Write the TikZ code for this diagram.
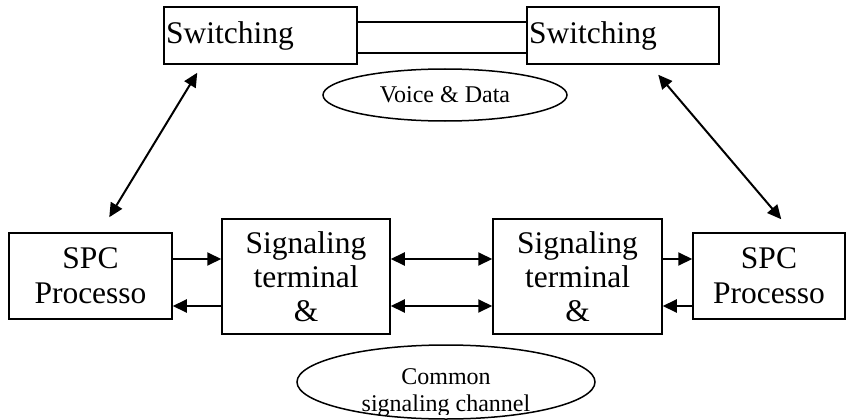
\documentclass[tikz,border=0pt]{standalone}
\usepackage{fontspec}
\setmainfont{Liberation Serif}
\usetikzlibrary{arrows.meta,shapes.geometric}
\begin{document}
\begin{tikzpicture}[x=1pt,y=-1pt,
  box/.style={draw,line width=1.5pt,inner sep=0pt,font=\fontsize{31.5}{34}\selectfont,align=center},
  swbox/.style={draw,line width=1.5pt,inner sep=2pt,font=\fontsize{31.5}{34}\selectfont,align=left,minimum height=57pt},
  oval/.style={draw,ellipse,line width=1.5pt,inner sep=0pt},
  arr/.style={-{Triangle[length=14pt,width=13pt]},line width=2pt},
  darr/.style={{Triangle[length=14pt,width=13pt]}-{Triangle[length=14pt,width=13pt]},line width=2pt},
  link/.style={line width=1.5pt}]
\useasboundingbox (0,0) rectangle (846,420);
% switching boxes
\node[swbox,text width=189pt] (lsw) at (260.5,35.5) {Switching};
\node[swbox,text width=188pt] (rsw) at (623,35.5) {Switching};
% voice & data ellipse
\node[oval,minimum width=244pt,minimum height=52pt,font=\fontsize{24}{26}\selectfont] (vd) at (445,95) {Voice \& Data};
% bottom boxes
\node[box,minimum width=163pt,minimum height=86pt,font=\fontsize{31.5}{35}\selectfont] (lspc) at (90.5,276) {SPC\\Processo};
\node[box,minimum width=168pt,minimum height=115pt] (lsig) at (306,276.5) {Signaling\\terminal\\\&};
\node[box,minimum width=169pt,minimum height=115pt] (rsig) at (577.5,276.5) {Signaling\\terminal\\\&};
\node[box,minimum width=152pt,minimum height=86pt,font=\fontsize{31.5}{35}\selectfont] (rspc) at (769,276) {SPC\\Processo};
% common signaling channel ellipse
\node[oval,minimum width=298pt,minimum height=74pt] (csc) at (446,382) {};
\begin{scope}
\clip (0,0) rectangle (846,414);
\node[font=\fontsize{24}{27}\selectfont,align=center,inner sep=0pt,anchor=base] (csct) at (446,411) {Common\\signaling channel};
\end{scope}
% link between switching
\draw[link] ([yshift=13.5pt]lsw.east) -- ([yshift=13.5pt]rsw.west);
\draw[link] ([yshift=-17.5pt]lsw.east) -- ([yshift=-17.5pt]rsw.west);
% diagonal arrows
\draw[darr] ([xshift=34pt,yshift=-8pt]lsw.south west) -- ([xshift=101pt,yshift=15pt]lspc.north west);
\draw[darr] ([xshift=132pt,yshift=-10pt]rsw.south west) -- ([xshift=89pt,yshift=13pt]rspc.north west);
% horizontal arrows
\draw[arr] ([yshift=17pt]lspc.east) -- ([yshift=17.5pt]lsig.west);
\draw[arr] ([yshift=-29.5pt]lsig.west) -- ([yshift=-30pt]lspc.east);
\draw[darr] ([yshift=17.5pt]lsig.east) -- ([yshift=17.5pt]rsig.west);
\draw[darr] ([yshift=-29.5pt]lsig.east) -- ([yshift=-29.5pt]rsig.west);
\draw[arr] ([yshift=17.5pt]rsig.east) -- ([yshift=17pt]rspc.west);
\draw[arr] ([yshift=-30pt]rspc.west) -- ([yshift=-29.5pt]rsig.east);
\end{tikzpicture}
\end{document}
